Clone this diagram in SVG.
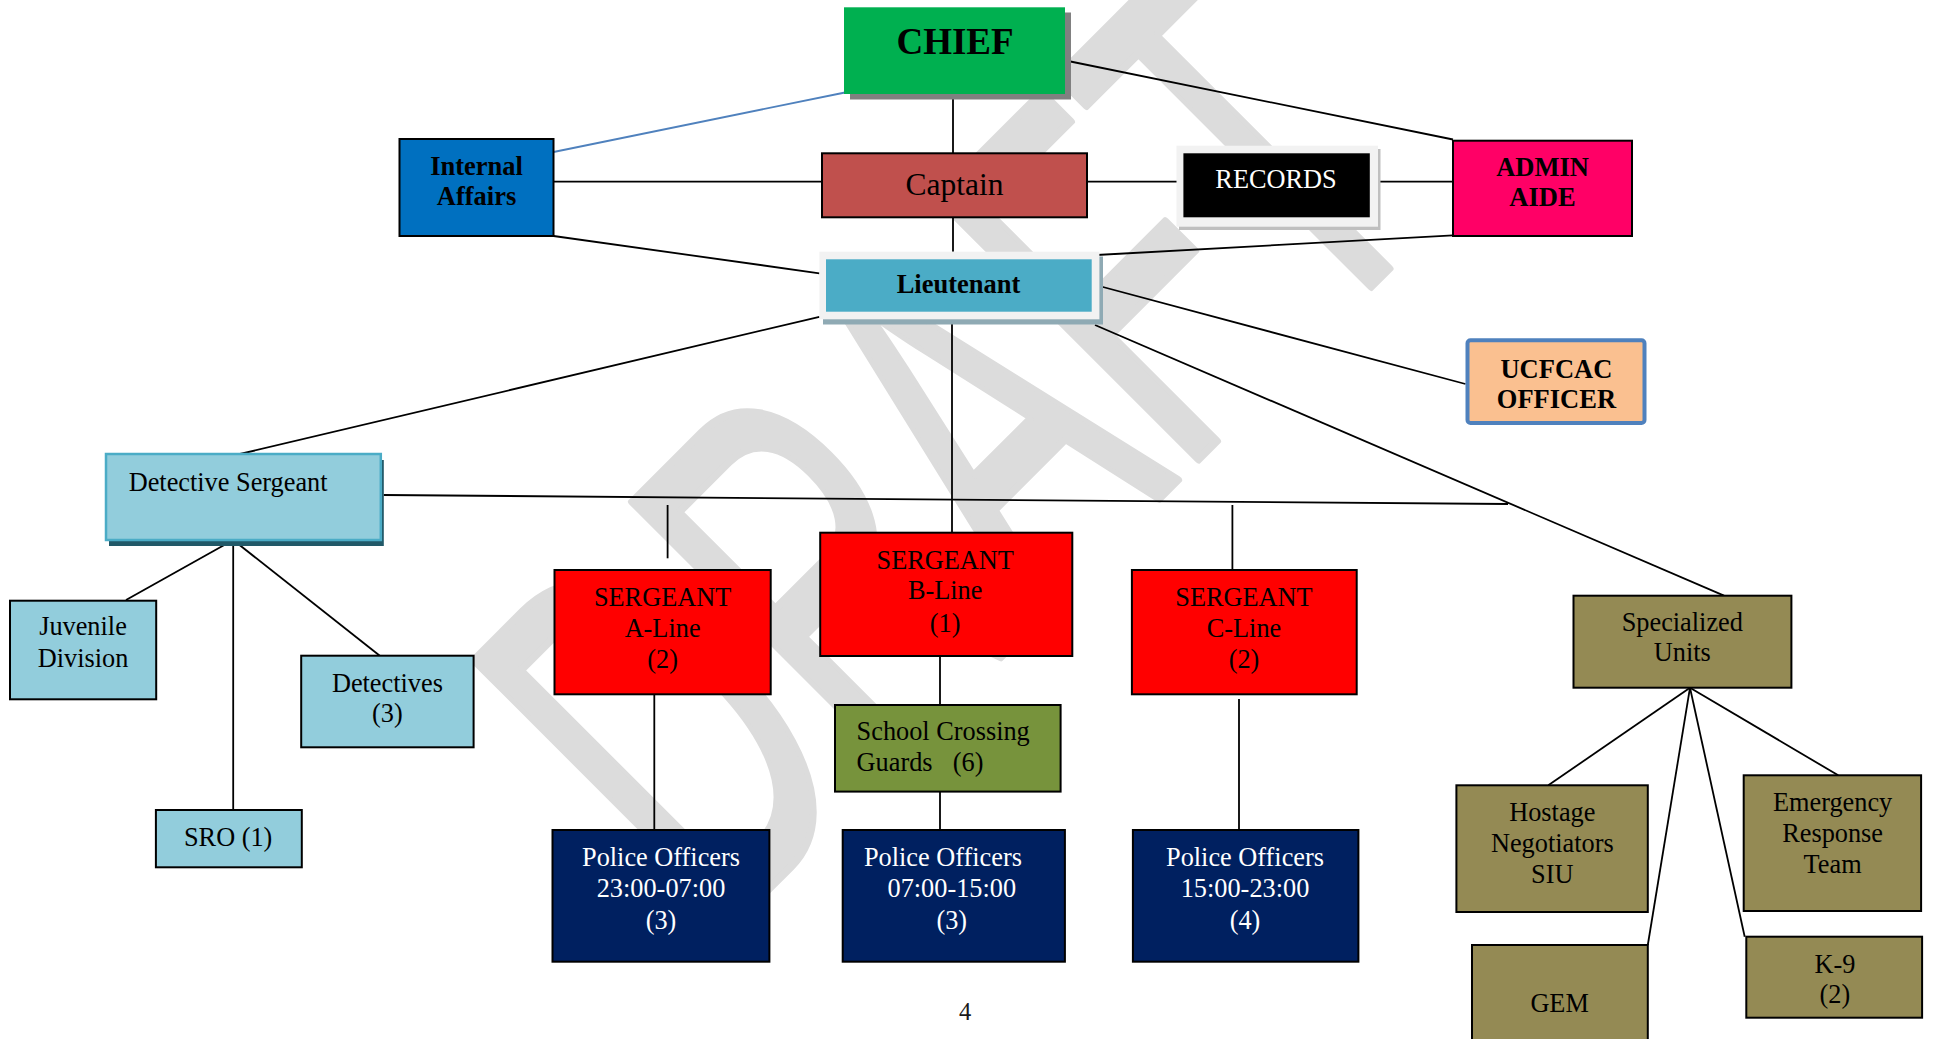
<svg xmlns="http://www.w3.org/2000/svg" width="1933" height="1039" viewBox="0 0 1933 1039">
<style>
text{font-family:"Liberation Serif","Times New Roman",serif;font-size:26.3px;fill:#000;text-anchor:middle}
.b{font-weight:bold;font-size:26.5px}
.w{fill:#fff}
.st{text-anchor:start}
.box{stroke:#000;stroke-width:2}
.ln{stroke:#000;stroke-width:1.8;fill:none}
.wm{font-family:"Liberation Sans",Arial,sans-serif;font-size:538px;fill:#DCDCDC;stroke:#DCDCDC;stroke-width:8;stroke-linejoin:round;text-anchor:start;font-kerning:none}
.lb{fill:#92CDDC}
.red{fill:#FF0000}
.navy{fill:#002060}
.olive{fill:#948A54}
</style>
<rect width="1933" height="1039" fill="#fff"/>
<text class="wm" transform="translate(716.7,941) rotate(-45)" textLength="1033" lengthAdjust="spacingAndGlyphs">DRAFT</text>
<g id="connectors">
<line class="ln" x1="553.6" y1="152" x2="845" y2="92.5" style="stroke:#4F81BD"/>
<line class="ln" x1="1068" y1="61" x2="1453" y2="139.5"/>
<line class="ln" x1="953" y1="99" x2="953" y2="153.3"/>
<line class="ln" x1="553.6" y1="181.7" x2="822" y2="181.7"/>
<line class="ln" x1="1087" y1="181.7" x2="1179.6" y2="181.7"/>
<line class="ln" x1="1374.8" y1="181.7" x2="1453" y2="181.7"/>
<line class="ln" x1="953" y1="217.3" x2="953" y2="251.7"/>
<line class="ln" x1="553.6" y1="236" x2="819.4" y2="273.3"/>
<line class="ln" x1="1096.7" y1="255" x2="1453" y2="235.3"/>
<line class="ln" x1="1091.7" y1="284" x2="1465.5" y2="384"/>
<line class="ln" x1="1095" y1="325" x2="1724" y2="595.7"/>
<line class="ln" x1="819.4" y1="316.8" x2="240" y2="454"/>
<line class="ln" x1="952" y1="324" x2="952" y2="532.7"/>
<line class="ln" x1="383.7" y1="495" x2="1508" y2="504"/>
<line class="ln" x1="667.6" y1="505" x2="667.6" y2="558.3"/>
<line class="ln" x1="1232.4" y1="505" x2="1232.4" y2="570"/>
<line class="ln" x1="654.3" y1="694.3" x2="654.3" y2="830"/>
<line class="ln" x1="940" y1="656" x2="940" y2="705"/>
<line class="ln" x1="940" y1="791.6" x2="940" y2="830"/>
<line class="ln" x1="1239" y1="699" x2="1239" y2="830"/>
<line class="ln" x1="233.2" y1="540" x2="126" y2="600"/>
<line class="ln" x1="233.2" y1="540" x2="233.2" y2="810"/>
<line class="ln" x1="233.2" y1="540" x2="379.8" y2="655.7"/>
<line class="ln" x1="1690" y1="687.7" x2="1548.3" y2="785.3"/>
<line class="ln" x1="1690" y1="687.7" x2="1647.8" y2="945"/>
<line class="ln" x1="1690" y1="687.7" x2="1744.7" y2="936.7"/>
<line class="ln" x1="1690" y1="687.7" x2="1838.2" y2="775.3"/>
</g>
<g id="chief">
<rect x="850" y="12.5" width="221" height="87" fill="#808080"/>
<rect x="844" y="7.3" width="221" height="86.7" fill="#00B050"/>
<text class="b" x="955" y="53.5" style="font-size:37px">CHIEF</text>
</g>
<g id="internal-affairs">
<rect class="box" x="399.5" y="139" width="154" height="97" fill="#0070C0"/>
<text class="b" x="476.5" y="175">Internal</text>
<text class="b" x="476.5" y="205">Affairs</text>
</g>
<g id="captain">
<rect class="box" x="822" y="153.3" width="265" height="64" fill="#C0504D"/>
<text x="954.5" y="195" style="font-size:31.5px">Captain</text>
</g>
<g id="records">
<rect x="1179" y="149" width="201.5" height="81" fill="#BFBFBF"/>
<rect x="1176.5" y="145.7" width="201.5" height="81" fill="#F2F2F2"/>
<rect x="1183.4" y="153.3" width="186.4" height="64" fill="#000"/>
<text class="w" x="1276" y="188.3">RECORDS</text>
</g>
<g id="admin-aide">
<rect class="box" x="1453" y="140.7" width="179" height="95.3" fill="#FF0066"/>
<text class="b" x="1542.5" y="176">ADMIN</text>
<text class="b" x="1542.5" y="206">AIDE</text>
</g>
<g id="lieutenant">
<rect x="823" y="256.5" width="280" height="68" fill="#8FAAB4"/>
<rect x="819.4" y="251.7" width="280" height="67.6" fill="#F2F2F2"/>
<rect x="826" y="259.3" width="265.7" height="52.4" fill="#4BACC6"/>
<text class="b" x="958.5" y="293.3">Lieutenant</text>
</g>
<g id="ucfcac-officer">
<rect x="1467.5" y="340.3" width="177" height="82.7" rx="3" fill="#FAC090" stroke="#4F81BD" stroke-width="4"/>
<text class="b" x="1556.4" y="378.3">UCFCAC</text>
<text class="b" x="1556.4" y="408.3">OFFICER</text>
</g>
<g id="detective-sergeant">
<rect x="109" y="460" width="274.8" height="86" fill="#215968"/>
<rect x="106" y="454" width="274.8" height="86" fill="#92CDDC" stroke="#4BACC6" stroke-width="2.5"/>
<text class="st" x="128.7" y="491">Detective Sergeant</text>
</g>
<g id="juvenile-division">
<rect class="box lb" x="10" y="600.7" width="146.2" height="98.6"/>
<text x="83" y="635">Juvenile</text>
<text x="83" y="666.7">Division</text>
</g>
<g id="sro">
<rect class="box lb" x="155.9" y="810" width="145.9" height="57.3"/>
<text x="228.2" y="846">SRO (1)</text>
</g>
<g id="detectives">
<rect class="box lb" x="301.2" y="655.7" width="172.4" height="91.6"/>
<text x="387.4" y="691.7">Detectives</text>
<text x="387.4" y="721.7">(3)</text>
</g>
<g id="sergeant-a-line">
<rect class="box red" x="554.5" y="570" width="216.2" height="124.3"/>
<text x="662.6" y="606">SERGEANT</text>
<text x="662.6" y="636.7">A-Line</text>
<text x="662.6" y="668.3">(2)</text>
</g>
<g id="sergeant-b-line">
<rect class="box red" x="820.2" y="532.7" width="252.1" height="123.3"/>
<text x="945.2" y="569.3">SERGEANT</text>
<text x="945.2" y="599.3">B-Line</text>
<text x="945.2" y="631.7">(1)</text>
</g>
<g id="sergeant-c-line">
<rect class="box red" x="1131.9" y="570" width="224.8" height="124.3"/>
<text x="1244" y="606">SERGEANT</text>
<text x="1244" y="636.7">C-Line</text>
<text x="1244" y="668.3">(2)</text>
</g>
<g id="school-crossing-guards">
<rect class="box" x="835" y="705" width="225.6" height="86.6" fill="#77933C"/>
<text class="st" x="856.6" y="740">School Crossing</text>
<text class="st" x="856.6" y="771">Guards</text>
<text class="st" x="952.8" y="771">(6)</text>
</g>
<g id="police-officers-a">
<rect class="box navy" x="552.5" y="830" width="216.9" height="131.7"/>
<text class="w" x="661" y="866">Police Officers</text>
<text class="w" x="661" y="896.7">23:00-07:00</text>
<text class="w" x="661" y="929.3">(3)</text>
</g>
<g id="police-officers-b">
<rect class="box navy" x="842.7" y="830" width="222.2" height="131.7"/>
<text class="w" x="942.9" y="866">Police Officers</text>
<text class="w" x="951.8" y="896.7">07:00-15:00</text>
<text class="w" x="951.8" y="929.3">(3)</text>
</g>
<g id="police-officers-c">
<rect class="box navy" x="1132.9" y="830" width="225.5" height="131.7"/>
<text class="w" x="1245" y="866">Police Officers</text>
<text class="w" x="1245" y="896.7">15:00-23:00</text>
<text class="w" x="1245" y="929.3">(4)</text>
</g>
<g id="specialized-units">
<rect class="box olive" x="1573.5" y="595.7" width="217.9" height="92"/>
<text x="1682.3" y="630.7">Specialized</text>
<text x="1682.3" y="661">Units</text>
</g>
<g id="hostage-negotiators">
<rect class="box olive" x="1456.4" y="785.3" width="191.4" height="126.7"/>
<text x="1552.3" y="820.7">Hostage</text>
<text x="1552.3" y="851.7">Negotiators</text>
<text x="1552.3" y="882.7">SIU</text>
</g>
<g id="gem">
<rect class="box olive" x="1472" y="945" width="175.8" height="100"/>
<text x="1559.6" y="1011.7">GEM</text>
</g>
<g id="emergency-response-team">
<rect class="box olive" x="1743.7" y="775.3" width="177.4" height="135.7"/>
<text x="1832.6" y="810.7">Emergency</text>
<text x="1832.6" y="841.7">Response</text>
<text x="1832.6" y="872.7">Team</text>
</g>
<g id="k9">
<rect class="box olive" x="1746.3" y="936.7" width="175.8" height="81"/>
<text x="1834.9" y="972.7">K-9</text>
<text x="1834.9" y="1003.3">(2)</text>
</g>
<text x="965" y="1020" style="font-size:24.5px;fill:#1a1a1a">4</text>
</svg>
